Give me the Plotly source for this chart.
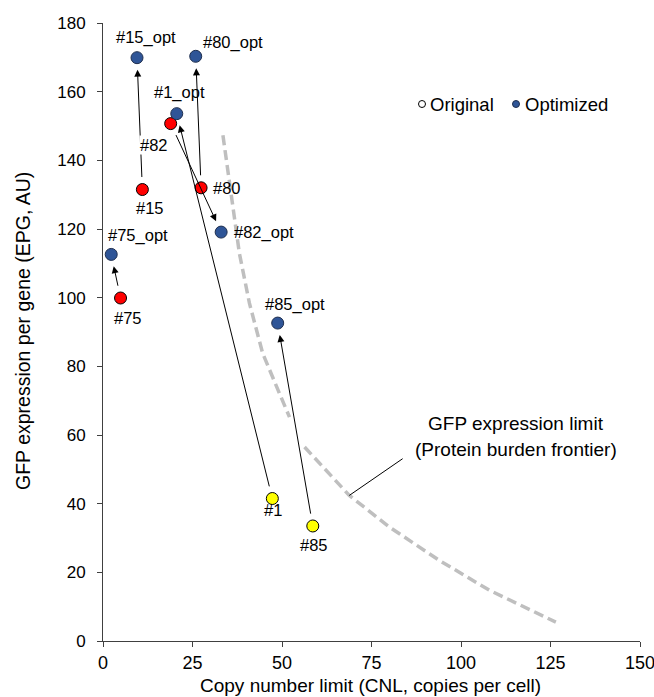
import plotly.graph_objects as go

# ---------------- data ----------------
strains = ["#1", "#15", "#75", "#80", "#82", "#85"]
orig_cnl = [47.3, 11.0, 4.9, 27.4, 18.9, 58.6]
orig_epg = [41.5, 131.5, 99.9, 132.0, 150.7, 33.5]
orig_group = ["yellow", "red", "red", "red", "red", "yellow"]

opt_labels = ["#1_opt", "#15_opt", "#75_opt", "#80_opt", "#82_opt", "#85_opt"]
opt_cnl = [20.6, 9.5, 2.3, 25.9, 33.0, 48.8]
opt_epg = [153.6, 169.9, 112.6, 170.3, 119.1, 92.6]

frontier_upper_cnl = [33.5, 34.9, 36.3, 38.1, 40.9, 44.6, 49.3, 52.1]
frontier_upper_epg = [147.3, 137.1, 125.4, 112.9, 98.4, 83.8, 72.1, 65.2]
frontier_lower_cnl = [56.3, 68.8, 80.0, 93.9, 107.9, 126.5]
frontier_lower_epg = [56.5, 42.4, 33.2, 23.5, 14.8, 5.5]

x_ticks = [0, 25, 50, 75, 100, 125, 150]
y_ticks = [0, 20, 40, 60, 80, 100, 120, 140, 160, 180]

# ---------------- styles ----------------
FONT = "Liberation Sans, Arial, sans-serif"
BLUE = "#2F5597"
FILL = {"yellow": "#FFFF00", "red": "#FF0000"}
W, H = 654, 697
ML, MR, MT, MB = 103, 14, 23, 56
PW, PH = W - ML - MR, H - MT - MB


def px_to_paper(px, py):
    return (px - ML) / PW, (H - MB - py) / PH


# label offsets in pixels: (dx right, dy down, anchor)
orig_off = {"#1": (1, 11, "center"), "#15": (8, 18, "center"), "#75": (7, 20, "center"),
            "#80": (11, 0, "left"), "#82": (-17, 21, "center"), "#85": (1, 19, "center")}
opt_off = {"#1_opt": (3, -21, "center"), "#15_opt": (9, -20, "center"),
           "#75_opt": (27, -19, "center"), "#80_opt": (37, -14, "center"),
           "#82_opt": (11, 0, "left"), "#85_opt": (17, -19, "center")}

fig = go.Figure()

fig.add_trace(go.Scatter(x=frontier_upper_cnl, y=frontier_upper_epg, mode="lines",
                         line=dict(color="#BFBFBF", width=3.5, dash="10px,5px"),
                         showlegend=False, hoverinfo="skip"))
fig.add_trace(go.Scatter(x=frontier_lower_cnl, y=frontier_lower_epg, mode="lines",
                         line=dict(color="#BFBFBF", width=3.5, dash="10px,5px"),
                         showlegend=False, hoverinfo="skip"))

fig.add_trace(go.Scatter(x=orig_cnl, y=orig_epg, mode="markers", name="Original",
                         marker=dict(size=12, color=[FILL[g] for g in orig_group],
                                     line=dict(color="#000000", width=1)),
                         text=strains, showlegend=False, cliponaxis=False))
fig.add_trace(go.Scatter(x=opt_cnl, y=opt_epg, mode="markers", name="Optimized",
                         marker=dict(size=12, color=BLUE,
                                     line=dict(color="#1F2F4F", width=1)),
                         text=opt_labels, showlegend=False, cliponaxis=False))

annotations = []
# arrows original -> optimized
for i in range(len(strains)):
    annotations.append(dict(x=opt_cnl[i], y=opt_epg[i], xref="x", yref="y",
                            ax=orig_cnl[i], ay=orig_epg[i], axref="x", ayref="y",
                            showarrow=True, arrowhead=2, arrowsize=1.4, arrowwidth=1,
                            arrowcolor="#000000", standoff=12, startstandoff=11, text=""))

lab_font = dict(family=FONT, size=16.5, color="#000000")
for i, s in enumerate(strains):
    dx, dy, anc = orig_off[s]
    annotations.append(dict(x=orig_cnl[i], y=orig_epg[i], xref="x", yref="y", text=s,
                            showarrow=False, xanchor=anc, yanchor="middle",
                            xshift=dx, yshift=-dy, font=lab_font,
                            bgcolor="#FFFFFF" if s == "#82" else None, borderpad=0))
for i, s in enumerate(opt_labels):
    dx, dy, anc = opt_off[s]
    annotations.append(dict(x=opt_cnl[i], y=opt_epg[i], xref="x", yref="y", text=s,
                            showarrow=False, xanchor=anc, yanchor="middle",
                            xshift=dx, yshift=-dy, font=lab_font))

# frontier label
big_font = dict(family=FONT, size=19, color="#000000")
annotations.append(dict(x=115.5, y=59.5, xref="x", yref="y", text="GFP expression limit",
                        showarrow=False, xanchor="center", yanchor="middle", yshift=13,
                        font=big_font))
annotations.append(dict(x=115.5, y=59.5, xref="x", yref="y", text="(Protein burden frontier)",
                        showarrow=False, xanchor="center", yanchor="middle", yshift=-13,
                        font=big_font))

# axis titles (placed as annotations for exact position)
tx, ty = px_to_paper(370, 685)
annotations.append(dict(x=tx, y=ty, xref="paper", yref="paper",
                        text="Copy number limit (CNL, copies per cell)", showarrow=False,
                        xanchor="center", yanchor="middle",
                        font=dict(family=FONT, size=19, color="#000000")))
tx, ty = px_to_paper(23, 331)
annotations.append(dict(x=tx, y=ty, xref="paper", yref="paper",
                        text="GFP expression per gene (EPG, AU)", showarrow=False,
                        xanchor="center", yanchor="middle", textangle=-90,
                        font=dict(family=FONT, size=19.5, color="#000000")))

# legend (custom)
leg_font = dict(family=FONT, size=18.5, color="#000000")
lx1, ly = px_to_paper(428, 104)
lx2, _ = px_to_paper(523, 104)
cx1, _ = px_to_paper(422, 104)
cx2, _ = px_to_paper(516, 104)
annotations.append(dict(x=lx1, y=ly, xref="paper", yref="paper", text="Original",
                        showarrow=False, xanchor="left", yanchor="middle", font=leg_font))
annotations.append(dict(x=lx2, y=ly, xref="paper", yref="paper", text="Optimized",
                        showarrow=False, xanchor="left", yanchor="middle", font=leg_font))

shapes = [
    dict(type="circle", xref="paper", yref="paper", xsizemode="pixel", ysizemode="pixel",
         xanchor=cx1, yanchor=ly, x0=-3.5, x1=3.5, y0=-3.5, y1=3.5,
         line=dict(color="#000000", width=1), fillcolor="#FFFFFF"),
    dict(type="circle", xref="paper", yref="paper", xsizemode="pixel", ysizemode="pixel",
         xanchor=cx2, yanchor=ly, x0=-3.5, x1=3.5, y0=-3.5, y1=3.5,
         line=dict(color="#1F2F4F", width=1), fillcolor=BLUE),
    dict(type="line", xref="x", yref="y", x0=68.8, y0=42.4, x1=83.7, y1=53.1,
         line=dict(color="#000000", width=1)),
]

axis_common = dict(showgrid=False, zeroline=False, showline=True, linecolor="#404040",
                   linewidth=1, ticks="outside", ticklen=5, tickcolor="#404040",
                   tickwidth=1, automargin=False, ticklabeloverflow="allow")

fig.update_layout(
    width=W, height=H,
    margin=dict(l=ML, r=MR, t=MT, b=MB, autoexpand=False),
    paper_bgcolor="#FFFFFF", plot_bgcolor="#FFFFFF",
    font=dict(family=FONT, color="#000000"),
    showlegend=False,
    annotations=annotations, shapes=shapes,
    xaxis=dict(range=[0, 150], tickvals=x_ticks, ticktext=[str(v) for v in x_ticks],
               tickfont=dict(family=FONT, size=18), **axis_common),
    yaxis=dict(range=[0, 180], tickvals=y_ticks, ticktext=[str(v) for v in y_ticks],
               tickfont=dict(family=FONT, size=17), ticklabelstandoff=8,
               **axis_common),
)

fig.write_html("out.html", config={"displayModeBar": False},
               post_script="document.body.style.margin='0';document.body.style.overflow='hidden';")
